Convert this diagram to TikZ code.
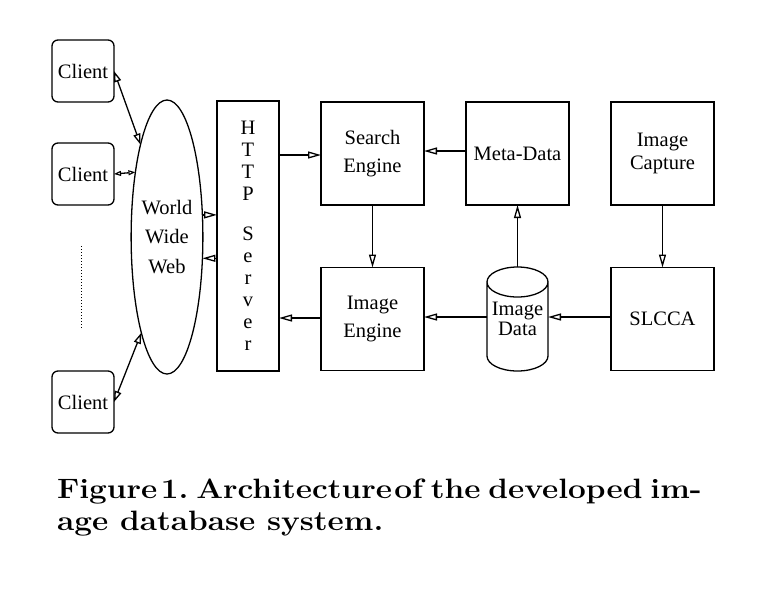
\documentclass[tikz,border=0pt]{standalone}
\usepackage{fontspec}
\setmainfont{Liberation Serif}
\newfontfamily\capfont{Latin Modern Roman}
\usetikzlibrary{arrows.meta,calc,shapes.geometric}
\begin{document}
\begin{tikzpicture}[x=1pt,y=-1pt,
  every node/.style={inner sep=0pt,outer sep=0pt},
  boxed/.style={draw,line width=1.3pt,minimum width=103pt,minimum height=103pt,align=center,
    font=\fontsize{20.5}{28}\selectfont},
  clientbox/.style={draw,line width=1.3pt,rounded corners=6pt,minimum width=62pt,minimum height=62pt,
    font=\fontsize{20.5}{24}\selectfont},
  arr/.style={line width=1.3pt,-{Triangle[open,length=13pt,width=7pt,line width=1.3pt]}},
  darr/.style={line width=1.3pt,{Triangle[open,length=11pt,width=7pt,line width=1.3pt]}-{Triangle[open,length=11pt,width=7pt,line width=1.3pt]}},
  sdarr/.style={line width=1.3pt,{Triangle[open,length=7pt,width=5pt,line width=1.1pt]}-{Triangle[open,length=7pt,width=5pt,line width=1.1pt]}},
  captext/.style={anchor=base west,font=\capfont\bfseries\fontsize{28}{32}\selectfont}
]
\useasboundingbox (0,0) rectangle (773,590);

% clients
\node[clientbox] (c1) at (83,71) {Client};
\node[clientbox] (c2) at (83,174) {Client};
\node[clientbox] (c3) at (83,402) {Client};
\coordinate (dtop) at (81,246);
\coordinate (dbot) at (81,328);
\draw[dotted,line width=1pt] (dtop) -- (dbot);

% world wide web
\node[draw,line width=1.3pt,ellipse,minimum width=60pt,minimum height=274pt,align=center,
  font=\fontsize{20.5}{29.5}\selectfont] (www) at (167,237) {World\\Wide\\Web};

% http server
\node[draw,line width=1.3pt,minimum width=62pt,minimum height=270pt,align=center,
  font=\fontsize{20.5}{22}\selectfont] (http) at (248,236) {H\\T\\T\\P\\[18pt]S\\e\\r\\v\\e\\r};

% boxes
\node[boxed] (se) at (372.5,153.5) {Search\\Engine};
\node[boxed] (md) at (517.5,153.5) {Meta-Data};
\node[boxed,font=\fontsize{20.5}{23}\selectfont] (ic) at (662.5,153.5) {Image\\Capture};
\node[boxed] (ie) at (372.5,319) {Image\\Engine};
\node[boxed] (sl) at (662.5,319) {SLCCA};

% image data cylinder
\node[minimum width=61pt,minimum height=104pt,align=center,
  font=\fontsize{20.5}{20}\selectfont] (id) at (517.5,319) {Image\\Data};
\draw[line width=1.3pt]
  ([yshift=-15pt]id.north west) -- ([yshift=15pt]id.south west)
  arc[start angle=180,end angle=360,x radius=30.5pt,y radius=15pt]
  -- ([yshift=-15pt]id.north east)
  arc[start angle=0,end angle=180,x radius=30.5pt,y radius=15pt]
  arc[start angle=180,end angle=360,x radius=30.5pt,y radius=15pt];

% connectors
\draw[darr] (c1.east) -- (www.106);
\draw[sdarr] (c2.east) -- (www.116);
\draw[darr] (c3.east) -- (www.255);
\draw[arr] (www.32) -- (http.west |- www.32);
\draw[arr] (http.west |- www.-31) -- (www.-31);
\draw[arr] (http.east |- 0,155) -- (se.west |- 0,155);
\draw[arr] (md.west |- 0,151) -- (se.east |- 0,151);
\draw[arr] (se.south) -- (ie.north);
\draw[arr] (id.north) -- (md.south);
\draw[arr] (ic.south) -- (sl.north);
\draw[arr] (ie.west |- 0,318) -- (http.east |- 0,318);
\draw[arr] (id.west |- 0,317) -- (ie.east |- 0,317);
\draw[arr] (sl.west |- 0,317) -- (id.east |- 0,317);

% caption
\node[captext] (cap1) at (57,498) {\scalebox{1.127}[1]{\makebox[569pt][s]{Figure\hspace{3pt plus 1fil}1.\hspace{7pt plus 1fil}Architecture\hspace{2pt plus 1fil}of\hspace{7pt plus 1fil}the\hspace{7pt plus 1fil}developed\hspace{7pt plus 1fil}im-}}};
\node[captext] (cap2) at (57,530) {\scalebox{1.127}[1]{age database system.}};
\end{tikzpicture}
\end{document}
